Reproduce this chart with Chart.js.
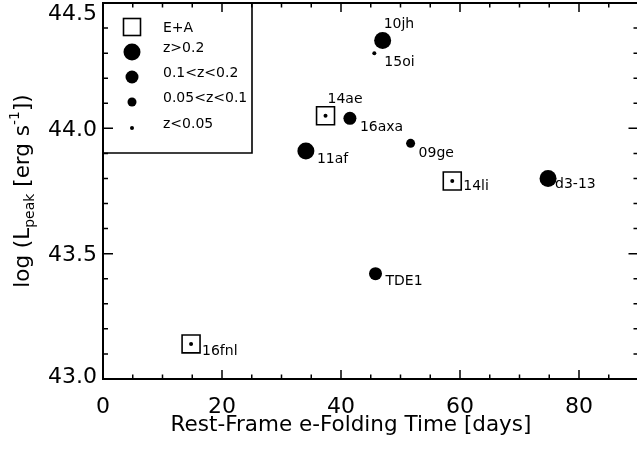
<!DOCTYPE html>
<html>
<head>
<meta charset="utf-8">
<script src="https://cdn.jsdelivr.net/npm/chart.js@4.4.1/dist/chart.umd.min.js"></script>
<style>
  html, body { margin: 0; padding: 0; background: #fff; overflow: hidden; }
  #wrap { width: 640px; height: 453px; }
</style>
</head>
<body>
<div id="wrap"><canvas id="myChart"></canvas></div>
<script>
// events
var names = ['10jh', '15oi', '14ae', '16axa', '11af', '09ge', '14li', 'd3-13', 'TDE1', '16fnl'];
var days  = [47.0, 45.6, 37.4, 41.5, 34.1, 51.7, 58.7, 74.8, 45.8, 14.8];
var logL  = [44.35, 44.30, 44.05, 44.04, 43.91, 43.94, 43.79, 43.80, 43.42, 43.14];
var zBin  = ['z>0.2', 'z<0.05', 'z<0.05', '0.1<z<0.2', 'z>0.2', '0.05<z<0.1', 'z<0.05', 'z>0.2', '0.1<z<0.2', 'z<0.05'];
var isEA  = [false, false, true, false, false, false, true, false, false, true];

var zBins = ['z>0.2', '0.1<z<0.2', '0.05<z<0.1', 'z<0.05'];
var legendLabels = ['E+A', 'z>0.2', '0.1<z<0.2', '0.05<z<0.1', 'z<0.05'];
var xTicks = [0, 20, 40, 60, 80];
var yTicks = [43.0, 43.5, 44.0, 44.5];

// styling (not data)
var binRadius = { 'z>0.2': 8.5, '0.1<z<0.2': 6.5, '0.05<z<0.1': 4.5, 'z<0.05': 2 };
var squareRadius = 12.7; // rect side = 2 * r * sqrt(1/2)
// label offset from point centre: [dx, dy]
var labelOffset = {
  '10jh': [1, -16], '15oi': [10, 9], '14ae': [2, -16], '16axa': [10, 9], '11af': [11, 8],
  '09ge': [8, 10], '14li': [11, 5], 'd3-13': [7, 6], 'TDE1': [10, 8], '16fnl': [11, 7]
};
var FONT = '"DejaVu Sans", sans-serif';

function pts(test) {
  var out = [];
  for (var i = 0; i < names.length; i++) {
    if (test(i)) out.push({ x: days[i], y: logL[i], name: names[i] });
  }
  return out;
}

var datasets = [{
  label: 'E+A',
  data: pts(function (i) { return isEA[i]; }),
  pointStyle: 'rect',
  pointRadius: squareRadius,
  borderColor: '#000',
  backgroundColor: 'rgba(0,0,0,0)',
  pointBorderWidth: 1.6,
  order: 2
}];
zBins.forEach(function (b) {
  datasets.push({
    label: b,
    data: pts(function (i) { return zBin[i] === b; }),
    pointStyle: 'circle',
    pointRadius: binRadius[b],
    borderColor: '#000',
    backgroundColor: '#000',
    pointBorderWidth: 0,
    order: 1
  });
});

var framePlugin = {
  id: 'idlFrame',
  afterDraw: function (chart) {
    var ctx = chart.ctx, a = chart.chartArea;
    var xs = chart.scales.x, ys = chart.scales.y;
    ctx.save();
    ctx.strokeStyle = '#000';
    ctx.fillStyle = '#000';

    // frame
    ctx.lineWidth = 2;
    ctx.strokeRect(a.left, a.top, a.right - a.left, a.bottom - a.top);

    // inward ticks
    ctx.lineWidth = 1.5;
    ctx.beginPath();
    for (var v = xs.min; v <= xs.max + 1e-6; v += 5) {
      var px = xs.getPixelForValue(v);
      var len = (Math.round(v) % 20 === 0) ? 9 : 4.5;
      ctx.moveTo(px, a.bottom); ctx.lineTo(px, a.bottom - len);
      ctx.moveTo(px, a.top); ctx.lineTo(px, a.top + len);
    }
    for (var k = 0; k <= 15; k++) {
      var yv = ys.min + k * 0.1;
      var py = ys.getPixelForValue(yv);
      var ylen = (k % 5 === 0) ? 10 : 5;
      ctx.moveTo(a.left, py); ctx.lineTo(a.left + ylen, py);
      ctx.moveTo(a.right, py); ctx.lineTo(a.right - ylen, py);
    }
    ctx.stroke();

    // tick labels
    ctx.font = '22px ' + FONT;
    ctx.textAlign = 'center';
    ctx.textBaseline = 'alphabetic';
    xTicks.forEach(function (t) {
      ctx.fillText(String(t), xs.getPixelForValue(t), a.bottom + 34);
    });
    ctx.textAlign = 'right';
    yTicks.forEach(function (t) {
      var base = ys.getPixelForValue(t) + 7.5;
      base = Math.min(Math.max(base, a.top + 17), a.bottom + 4);
      ctx.fillText(t.toFixed(1), a.left - 6, base);
    });

    // x title
    ctx.font = '21.5px ' + FONT;
    ctx.textAlign = 'center';
    ctx.fillText('Rest-Frame e-Folding Time [days]', 351, a.bottom + 52);

    // y title with sub/superscript
    var segs = [
      { t: 'log (L', s: 21.5, dy: 0 },
      { t: 'peak', s: 14, dy: 5 },
      { t: ' [erg s', s: 21.5, dy: 0 },
      { t: '-1', s: 14, dy: -10 },
      { t: '])', s: 21.5, dy: 0 }
    ];
    var total = 0;
    segs.forEach(function (sg) { ctx.font = sg.s + 'px ' + FONT; sg.w = ctx.measureText(sg.t).width; total += sg.w; });
    ctx.save();
    ctx.translate(29, (a.top + a.bottom) / 2);
    ctx.rotate(-Math.PI / 2);
    ctx.textAlign = 'left';
    var cx = -total / 2;
    segs.forEach(function (sg) {
      ctx.font = sg.s + 'px ' + FONT;
      ctx.fillText(sg.t, cx, sg.dy);
      cx += sg.w;
    });
    ctx.restore();

    // point labels
    ctx.font = '14px ' + FONT;
    ctx.textAlign = 'left';
    ctx.textBaseline = 'middle';
    for (var i = 0; i < names.length; i++) {
      var off = labelOffset[names[i]];
      ctx.fillText(names[i], xs.getPixelForValue(days[i]) + off[0], ys.getPixelForValue(logL[i]) + off[1]);
    }

    // legend box in upper left
    var lx = a.left, ly = a.top;
    ctx.lineWidth = 1.6;
    ctx.beginPath();
    ctx.moveTo(lx + 149, ly);
    ctx.lineTo(lx + 149, ly + 150);
    ctx.lineTo(lx, ly + 150);
    ctx.stroke();
    var rowY = [24, 49, 74, 99, 125];
    var textY = [25, 45, 70, 95, 121];
    legendLabels.forEach(function (lab, j) {
      var sx = lx + 29, sy = ly + rowY[j];
      if (j === 0) {
        ctx.strokeRect(sx - 8.5, sy - 8.5, 17, 17);
      } else {
        ctx.beginPath();
        ctx.arc(sx, sy, binRadius[lab], 0, Math.PI * 2);
        ctx.fill();
      }
      ctx.fillText(lab, lx + 60, ly + textY[j]);
    });

    ctx.restore();
  }
};

var ctx = document.getElementById('myChart').getContext('2d');
var myChart = new Chart(ctx, {
  type: 'scatter',
  data: { datasets: datasets },
  options: {
    responsive: true,
    maintainAspectRatio: false,
    animation: false,
    layout: { autoPadding: false, padding: { left: 103, top: 3, right: 1.5, bottom: 74 } },
    plugins: { legend: { display: false }, tooltip: { enabled: false } },
    scales: {
      x: { type: 'linear', min: 0, max: 90, display: false },
      y: { type: 'linear', min: 43.0, max: 44.5, display: false }
    }
  },
  plugins: [framePlugin]
});
</script>
</body>
</html>
